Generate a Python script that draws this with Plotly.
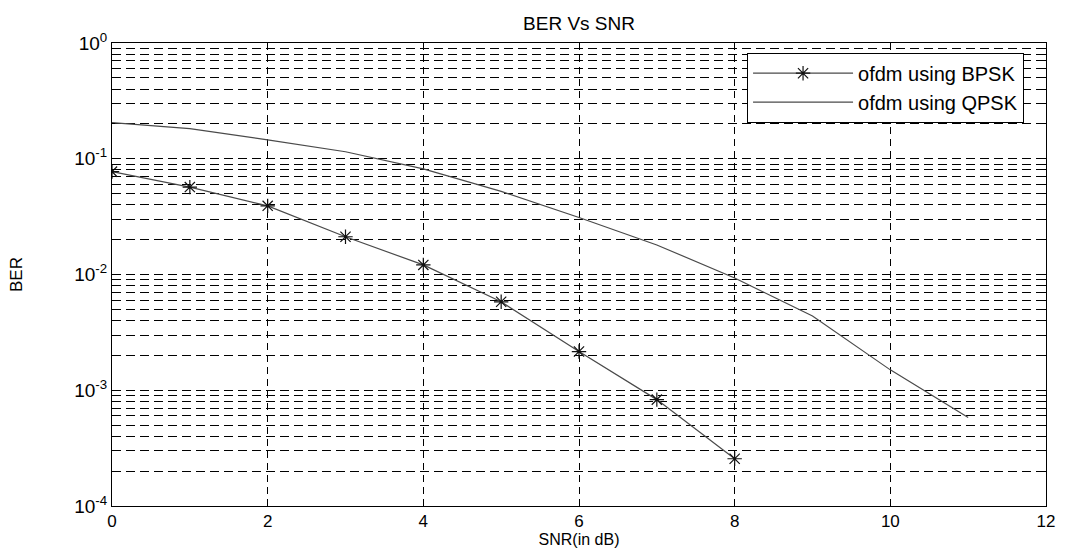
import plotly.graph_objects as go

snr_bpsk = [0, 1, 2, 3, 4, 5, 6, 7, 8]
ber_bpsk = [0.0774, 0.0569, 0.0392, 0.0212, 0.0121, 0.00581, 0.00216, 0.00083, 0.000256]

snr_qpsk = [0, 1, 2, 3, 4, 5, 6, 7, 8, 9, 10, 11]
ber_qpsk = [0.2055, 0.182, 0.1457, 0.1149, 0.0817, 0.0522, 0.0311, 0.018, 0.00933, 0.00438, 0.0015, 0.000582]

x_ticks = [0, 2, 4, 6, 8, 10, 12]
y_tickvals = [1e-4, 1e-3, 1e-2, 1e-1, 1]
y_ticktext = ["10<sup>-4</sup>", "10<sup>-3</sup>", "10<sup>-2</sup>", "10<sup>-1</sup>", "10<sup>0</sup>"]

font_family = "Liberation Sans, Arial, sans-serif"
line_col = "#4a4a4a"

fig = go.Figure()
fig.add_trace(go.Scatter(
    x=snr_bpsk, y=ber_bpsk, mode="lines+markers", name="ofdm using BPSK",
    line=dict(color=line_col, width=1.2),
    marker=dict(symbol="asterisk-open", size=12, color="#111", line=dict(width=1.2, color="#111")),
))
fig.add_trace(go.Scatter(
    x=snr_qpsk, y=ber_qpsk, mode="lines", name="ofdm using QPSK",
    line=dict(color=line_col, width=1.2),
))

grid_dash = "9px,5px"
W, H = 1067, 555
fig.update_layout(
    width=W, height=H,
    margin=dict(l=112, r=18, t=43, b=45),
    paper_bgcolor="white", plot_bgcolor="white",
    font=dict(family=font_family, size=18, color="black"),
    title=dict(text="BER Vs SNR", x=0.5, xref="paper", xanchor="center", y=1 - 23/H, yanchor="middle",
               font=dict(size=19)),
    showlegend=True,
    legend=dict(x=0.9765, y=0.979, xanchor="right", yanchor="top",
                bgcolor="white", bordercolor="black", borderwidth=1,
                font=dict(size=20), tracegroupgap=0, itemwidth=100),
)
fig.update_xaxes(
    range=[0, 12], tickvals=x_ticks, ticks="inside", ticklen=5, tickcolor="black",
    showline=True, linecolor="black", linewidth=1, mirror="ticks",
    showgrid=True, gridcolor="black", gridwidth=1, griddash="7px,5px",
    zeroline=False,
    title=dict(text="SNR(in dB)", standoff=0, font=dict(size=16)),
    tickfont=dict(size=17),
)
fig.update_yaxes(
    type="log", range=[-4, 0], tickvals=y_tickvals, ticktext=y_ticktext,
    ticks="inside", ticklen=5, tickcolor="black",
    showline=True, linecolor="black", linewidth=1, mirror="ticks",
    showgrid=True, gridcolor="black", gridwidth=1, griddash=grid_dash,
    minor=dict(dtick="D1", showgrid=True, gridcolor="black", gridwidth=1, griddash=grid_dash,
               ticks="inside", ticklen=3, tickcolor="black"),
    zeroline=False,
    title=dict(text="BER", standoff=47, font=dict(size=17)),
    tickfont=dict(size=19),
)

# remove the browser's default 8px page margin so the figure sits at the window's corner
fig.write_html("out.html", config={"displayModeBar": False},
               post_script="document.body.style.margin='0';document.body.style.overflow='hidden';")
